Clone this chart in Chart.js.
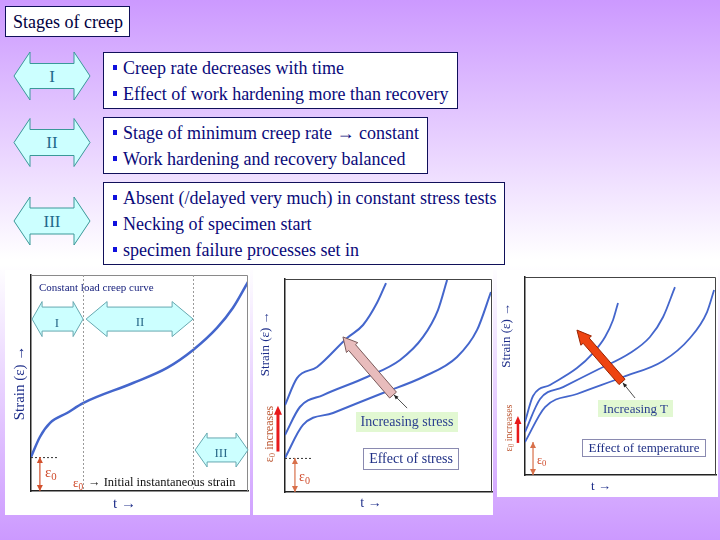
<!DOCTYPE html>
<html><head><meta charset="utf-8">
<script src="https://cdn.jsdelivr.net/npm/chart.js@4.4.0/dist/chart.umd.min.js"></script>
<style>
html,body{margin:0;padding:0;}
body{width:720px;height:540px;position:relative;overflow:hidden;
 background:linear-gradient(to bottom,#cc99ff 0%,#ffffff 48%,#ffffff 49%,#cc99ff 100%);
 font-family:"Liberation Serif","Times New Roman",serif;}
.abs{position:absolute;}
.box{position:absolute;background:#fff;border:1px solid #10105a;box-sizing:border-box;}
.ln{position:absolute;left:123px;white-space:nowrap;color:#0a0a7a;font-size:18px;line-height:18px;}
.bul{position:absolute;left:113px;width:4px;height:5px;background:#1010dd;}
.rn{position:absolute;width:40px;text-align:center;color:#1f6a8c;font-size:17px;line-height:17px;}
.lbl{position:absolute;white-space:nowrap;line-height:1;}
.red{color:#cf4a2a;}
.sub{font-size:0.72em;position:relative;top:0.28em;}
.rot{position:absolute;white-space:nowrap;line-height:1;transform:translate(-50%,-50%) rotate(-90deg);color:#bb5530;}
canvas{position:absolute;background:#fff;}
.gbox{position:absolute;background:#e2f8d2;color:#2b3f8f;text-align:center;white-space:nowrap;}
.wbox{position:absolute;background:#fff;border:1px solid #8a8ab0;box-sizing:border-box;color:#1f2f85;text-align:center;white-space:nowrap;}
</style></head>
<body>
<!-- title box -->
<div class="box" style="left:5px;top:6px;width:125px;height:31px;"></div>
<div class="lbl" style="left:13px;top:13px;font-size:18px;color:#000040;">Stages of creep</div>

<!-- left double arrows -->
<svg class="abs" style="left:0;top:0" width="100" height="260">
<polygon points="14,76 30,52 30,63.5 74,63.5 74,52 90,76 74,100 74,88.5 30,88.5 30,100" fill="#ccffff" stroke="#3a9999" stroke-width="1"/>
<polygon points="14,142.5 30,118.5 30,129.5 74,129.5 74,118.5 90,142.5 74,166.5 74,155.5 30,155.5 30,166.5" fill="#ccffff" stroke="#3a9999" stroke-width="1"/>
<polygon points="14,221 30,197 30,208 74,208 74,197 90,221 74,245 74,234 30,234 30,245" fill="#ccffff" stroke="#3a9999" stroke-width="1"/>
</svg>
<div class="rn" style="left:32px;top:68px;">I</div>
<div class="rn" style="left:32px;top:134px;">II</div>
<div class="rn" style="left:32px;top:213px;">III</div>

<!-- text boxes -->
<div class="box" style="left:103px;top:52px;width:355px;height:57px;"></div>
<div class="box" style="left:103px;top:117px;width:325px;height:57px;"></div>
<div class="box" style="left:103px;top:182px;width:402px;height:83px;"></div>
<div class="bul" style="top:65px;"></div><div class="ln" style="top:59px;">Creep rate decreases with time</div>
<div class="bul" style="top:91px;"></div><div class="ln" style="top:85px;">Effect of work hardening more than recovery</div>
<div class="bul" style="top:130px;"></div><div class="ln" style="top:124px;">Stage of minimum creep rate → constant</div>
<div class="bul" style="top:156px;"></div><div class="ln" style="top:150px;">Work hardening and recovery balanced</div>
<div class="bul" style="top:195px;"></div><div class="ln" style="top:189px;">Absent (/delayed very much) in constant stress tests</div>
<div class="bul" style="top:221px;"></div><div class="ln" style="top:215px;">Necking of specimen start</div>
<div class="bul" style="top:247px;"></div><div class="ln" style="top:241px;">specimen failure processes set in</div>

<!-- charts -->
<canvas id="c1" width="245" height="245" style="left:5px;top:270px;"></canvas>
<canvas id="c2" width="240" height="245" style="left:253px;top:270px;"></canvas>
<canvas id="c3" width="221" height="227" style="left:497px;top:270px;"></canvas>

<!-- panel 1 labels -->
<div class="lbl" style="left:39px;top:282px;font-size:11px;color:#1a237e;">Constant load creep curve</div>
<div class="rn" style="left:37px;top:316px;font-size:13px;line-height:13px;color:#2a6a8a;">I</div>
<div class="rn" style="left:120px;top:315px;font-size:13px;line-height:13px;color:#2a6a8a;">II</div>
<div class="rn" style="left:201px;top:446px;font-size:13px;line-height:13px;color:#2a6a8a;">III</div>
<div class="lbl red" style="left:45px;top:465px;font-size:15px;">ε<span class="sub">0</span></div>
<div class="lbl red" style="left:73px;top:476px;font-size:13px;">ε<span class="sub">0</span></div>
<div class="lbl" style="left:88px;top:476px;font-size:12.5px;color:#111;">→ Initial instantaneous strain</div>

<!-- panel 2 labels -->
<div class="rot" style="left:269px;top:434px;font-size:12px;">ε<span class="sub">0</span> increases</div>
<div class="lbl red" style="left:299px;top:470px;font-size:14px;">ε<span class="sub">0</span></div>
<div class="gbox" style="left:356px;top:412px;width:102px;height:20px;font-size:14px;line-height:20px;">Increasing stress</div>
<div class="wbox" style="left:363px;top:448px;width:96px;height:22px;font-size:14px;line-height:20px;">Effect of stress</div>

<!-- panel 3 labels -->
<div class="rot" style="left:509px;top:428px;font-size:10px;">ε<span class="sub">0</span> increases</div>
<div class="lbl red" style="left:537px;top:454px;font-size:12px;">ε<span class="sub">0</span></div>
<div class="gbox" style="left:598px;top:400px;width:75px;height:17px;font-size:13px;line-height:17px;">Increasing T</div>
<div class="wbox" style="left:582px;top:439px;width:124px;height:18px;font-size:13px;line-height:16px;">Effect of temperature</div>

<script>
// ---------- data (time and strain in arbitrary units 0-100) ----------
const stageNames = ['I', 'II', 'III'];
const stageBounds = [24, 74.7];           // time where stage I ends / stage II ends
const p1Time   = [0, 4.1, 8.8, 16.6, 24, 47, 62.7, 74.7, 85.7, 93, 100];
const p1Strain = [15.7, 25, 31.5, 36.1, 40.7, 50, 57, 65.3, 75.5, 84.7, 96.8];

// effect of stress: A = highest stress, C = lowest
const p2TimeA   = [0, 5.8, 15.5, 30, 37.7, 44.4, 48.8];
const p2StrainA = [40.8, 53.5, 58.7, 72.3, 78.4, 88.7, 98.1];
const p2TimeB   = [0, 7.2, 18.4, 39.6, 55.6, 66.7, 73.9, 78.3];
const p2StrainB = [26.8, 39.9, 45.5, 54, 62, 72.8, 85.4, 99.5];
const p2TimeC   = [0, 8.7, 23.2, 47.3, 66.7, 83.1, 92.8, 99.5];
const p2StrainC = [16, 31.5, 37.1, 46.5, 54, 63.4, 76.1, 93.9];

// effect of temperature: A = highest T, C = lowest
const p3TimeA   = [0, 4.2, 13.1, 27.2, 35.6, 41.9, 46.1, 48.7];
const p3StrainA = [26.8, 39.9, 45.5, 54, 61.6, 69.7, 78.3, 86.9];
const p3TimeB   = [0, 7.9, 19.9, 37.7, 55, 65.4, 72.3, 78.5];
const p3StrainB = [21.7, 38.4, 44.4, 53, 61.6, 69.7, 79.8, 94.9];
const p3TimeC   = [0, 10.5, 27.2, 51.3, 72.3, 86.4, 95.3, 99];
const p3StrainC = [16.7, 34.3, 40.9, 49.5, 57.6, 69.2, 82.3, 93.4];

const xTitle = 't →';
const yTitle = 'Strain (ε) →';

// ---------- drawing helpers ----------
function hDouble(ctx, x1, x2, cy, hh, sh, hl, fill, stroke) {
  ctx.beginPath();
  ctx.moveTo(x1, cy); ctx.lineTo(x1 + hl, cy - hh / 2); ctx.lineTo(x1 + hl, cy - sh / 2);
  ctx.lineTo(x2 - hl, cy - sh / 2); ctx.lineTo(x2 - hl, cy - hh / 2); ctx.lineTo(x2, cy);
  ctx.lineTo(x2 - hl, cy + hh / 2); ctx.lineTo(x2 - hl, cy + sh / 2); ctx.lineTo(x1 + hl, cy + sh / 2);
  ctx.lineTo(x1 + hl, cy + hh / 2); ctx.closePath();
  ctx.fillStyle = fill; ctx.fill(); ctx.strokeStyle = stroke; ctx.lineWidth = 1; ctx.stroke();
}
function vDouble(ctx, x, y1, y2, color) {
  ctx.strokeStyle = color; ctx.fillStyle = color; ctx.lineWidth = 1.2;
  ctx.beginPath(); ctx.moveTo(x, y1); ctx.lineTo(x, y2); ctx.stroke();
  [[y1, 1], [y2, -1]].forEach(([y, d]) => {
    ctx.beginPath(); ctx.moveTo(x, y); ctx.lineTo(x - 3, y + d * 6); ctx.lineTo(x + 3, y + d * 6); ctx.closePath(); ctx.fill();
  });
}
function upArrow(ctx, x, yb, yt, color, w, hw, hl) {
  ctx.strokeStyle = color; ctx.fillStyle = color; ctx.lineWidth = w;
  ctx.beginPath(); ctx.moveTo(x, yb); ctx.lineTo(x, yt + hl - 1); ctx.stroke();
  ctx.beginPath(); ctx.moveTo(x, yt); ctx.lineTo(x - hw / 2, yt + hl); ctx.lineTo(x + hw / 2, yt + hl); ctx.closePath(); ctx.fill();
}
function fatArrow(ctx, tx, ty, px, py, sw, hw, hl, fill, stroke) {
  const dx = px - tx, dy = py - ty, L = Math.hypot(dx, dy), ux = dx / L, uy = dy / L, nx = -uy, ny = ux;
  const bx = px - ux * hl, by = py - uy * hl;
  ctx.beginPath();
  ctx.moveTo(tx + nx * sw / 2, ty + ny * sw / 2);
  ctx.lineTo(bx + nx * sw / 2, by + ny * sw / 2);
  ctx.lineTo(bx + nx * hw / 2, by + ny * hw / 2);
  ctx.lineTo(px, py);
  ctx.lineTo(bx - nx * hw / 2, by - ny * hw / 2);
  ctx.lineTo(bx - nx * sw / 2, by - ny * sw / 2);
  ctx.lineTo(tx - nx * sw / 2, ty - ny * sw / 2);
  ctx.closePath();
  ctx.fillStyle = fill; ctx.fill(); ctx.strokeStyle = stroke; ctx.lineWidth = 1; ctx.stroke();
}
function leader(ctx, x1, y1, x2, y2) {
  ctx.strokeStyle = '#222'; ctx.fillStyle = '#222'; ctx.lineWidth = 0.8;
  ctx.beginPath(); ctx.moveTo(x1, y1); ctx.lineTo(x2, y2); ctx.stroke();
  const a = Math.atan2(y2 - y1, x2 - x1);
  ctx.beginPath(); ctx.moveTo(x2, y2);
  ctx.lineTo(x2 - 5 * Math.cos(a - 0.4), y2 - 5 * Math.sin(a - 0.4));
  ctx.lineTo(x2 - 5 * Math.cos(a + 0.4), y2 - 5 * Math.sin(a + 0.4));
  ctx.closePath(); ctx.fill();
}
function frame(ctx, a, color) {
  ctx.strokeStyle = color; ctx.lineWidth = 1; ctx.setLineDash([]);
  ctx.beginPath(); ctx.moveTo(a.left, a.top + 0.5); ctx.lineTo(a.right - 0.5, a.top + 0.5); ctx.lineTo(a.right - 0.5, a.bottom); ctx.stroke();
}

const drawers = {
  c1(chart) {
    const ctx = chart.ctx, a = chart.chartArea, X = v => chart.scales.x.getPixelForValue(v), Y = v => chart.scales.y.getPixelForValue(v);
    frame(ctx, a, '#8a8a8a');
    ctx.strokeStyle = '#9a9a9a'; ctx.lineWidth = 1; ctx.setLineDash([2, 2]);
    stageBounds.forEach(b => { const x = Math.round(X(b)) + 0.5; ctx.beginPath(); ctx.moveTo(x, a.top); ctx.lineTo(x, a.bottom); ctx.stroke(); });
    const e0 = p1Strain[0];
    ctx.strokeStyle = '#333';
    ctx.beginPath(); ctx.moveTo(X(0), Y(e0) + 0.5); ctx.lineTo(X(12.4), Y(e0) + 0.5); ctx.stroke();
    ctx.setLineDash([]);
    vDouble(ctx, X(4.1), Y(e0), Y(0), '#d2502c');
    const yc = Y(79.6);
    hDouble(ctx, X(0.5), X(stageBounds[0]), yc, 35, 24, 10, '#ccffff', '#66a8b0');
    hDouble(ctx, X(stageBounds[0]) + 3, X(stageBounds[1]), yc, 35, 24, 21, '#ccffff', '#66a8b0');
    hDouble(ctx, X(stageBounds[1]) + 2, X(100), Y(19), 34, 24, 12, '#ccffff', '#66a8b0');
  },
  c2(chart) {
    const ctx = chart.ctx, a = chart.chartArea, X = v => chart.scales.x.getPixelForValue(v), Y = v => chart.scales.y.getPixelForValue(v);
    frame(ctx, a, '#444');
    const e0 = p2StrainC[0];
    ctx.strokeStyle = '#333'; ctx.lineWidth = 1; ctx.setLineDash([2, 2]);
    ctx.beginPath(); ctx.moveTo(X(0), Y(e0) + 0.5); ctx.lineTo(X(13), Y(e0) + 0.5); ctx.stroke();
    ctx.setLineDash([]);
    vDouble(ctx, X(4.8), Y(e0), Y(0), '#d8704a');
    upArrow(ctx, X(-3.4), Y(19), Y(40.5), '#e8191b', 3, 8, 9);
    fatArrow(ctx, X(52.2), Y(45.5), X(28), Y(72.8), 9, 15, 14, '#e8bcbc', '#7a5a5a');
    leader(ctx, X(59), Y(39.4), X(52.6), Y(45.6));
  },
  c3(chart) {
    const ctx = chart.ctx, a = chart.chartArea, X = v => chart.scales.x.getPixelForValue(v), Y = v => chart.scales.y.getPixelForValue(v);
    frame(ctx, a, '#444');
    vDouble(ctx, X(4.2), Y(p3StrainC[0]), Y(0), '#d8704a');
    upArrow(ctx, X(-3.7), Y(16.2), Y(29.8), '#e8191b', 2.5, 7, 8);
    fatArrow(ctx, X(50.8), Y(47), X(27.2), Y(73.2), 8, 14, 14, '#ee4411', '#992200');
    leader(ctx, X(57.6), Y(38.9), X(51.2), Y(46.6));
  }
};
const annot = { id: 'annot', afterDatasetsDraw(chart) { drawers[chart.canvas.id](chart); } };

function makeChart(id, series, o) {
  return new Chart(document.getElementById(id), {
    type: 'line',
    data: { datasets: series.map(s => ({
      data: s[0].map((t, i) => ({ x: t, y: s[1][i] })),
      borderColor: '#4466cc', borderWidth: o.lw, pointRadius: 0, fill: false,
      cubicInterpolationMode: 'monotone'
    })) },
    options: {
      responsive: false, animation: false, devicePixelRatio: 1,
      layout: { padding: o.pad },
      plugins: { legend: { display: false }, tooltip: { enabled: false } },
      scales: {
        x: { type: 'linear', min: 0, max: 100, ticks: { display: false },
             grid: { display: false, drawTicks: false }, border: { color: '#222', width: 1.5 },
             title: { display: true, text: xTitle + o.xsuf, color: '#1f2f8a',
                      font: { family: 'Liberation Serif', size: o.xfs }, padding: { top: 0, bottom: o.xpb } },
             afterFit(s) { s.height = o.xh; } },
        y: { type: 'linear', min: 0, max: 100, ticks: { display: false },
             grid: { display: false, drawTicks: false }, border: { color: '#222', width: 1.5 },
             title: { display: true, text: yTitle + o.ysuf, align: o.yal, color: '#1f2f8a',
                      font: { family: 'Liberation Serif', size: o.yfs }, padding: { top: o.ypt, bottom: 0 } },
             afterFit(s) { s.width = o.yw; } }
      }
    },
    plugins: [annot]
  });
}

makeChart('c1', [[p1Time, p1Strain]],
  { lw: 2.5, pad: { top: 5, right: 2, left: 0, bottom: 0 }, xh: 24, yw: 26, xfs: 15, xpb: 2, xsuf: '\u2003\u2003',
    yfs: 15, ypt: 6, yal: 'center', ysuf: '' });
makeChart('c2', [[p2TimeA, p2StrainA], [p2TimeB, p2StrainB], [p2TimeC, p2StrainC]],
  { lw: 2, pad: { top: 9, right: 1, left: 0, bottom: 0 }, xh: 23, yw: 32, xfs: 14, xpb: 3.6, xsuf: '\u2003\u2003\u2002',
    yfs: 13, ypt: 5, yal: 'end', ysuf: '\u2003\u2003\u2002' });
makeChart('c3', [[p3TimeA, p3StrainA], [p3TimeB, p3StrainB], [p3TimeC, p3StrainC]],
  { lw: 1.8, pad: { top: 7, right: 2, left: 0, bottom: 0 }, xh: 22, yw: 28, xfs: 13, xpb: 2.2, xsuf: '\u2003\u2003\u2003',
    yfs: 13, ypt: 1.8, yal: 'end', ysuf: '\u2003\u2003' });
</script>
</body></html>
